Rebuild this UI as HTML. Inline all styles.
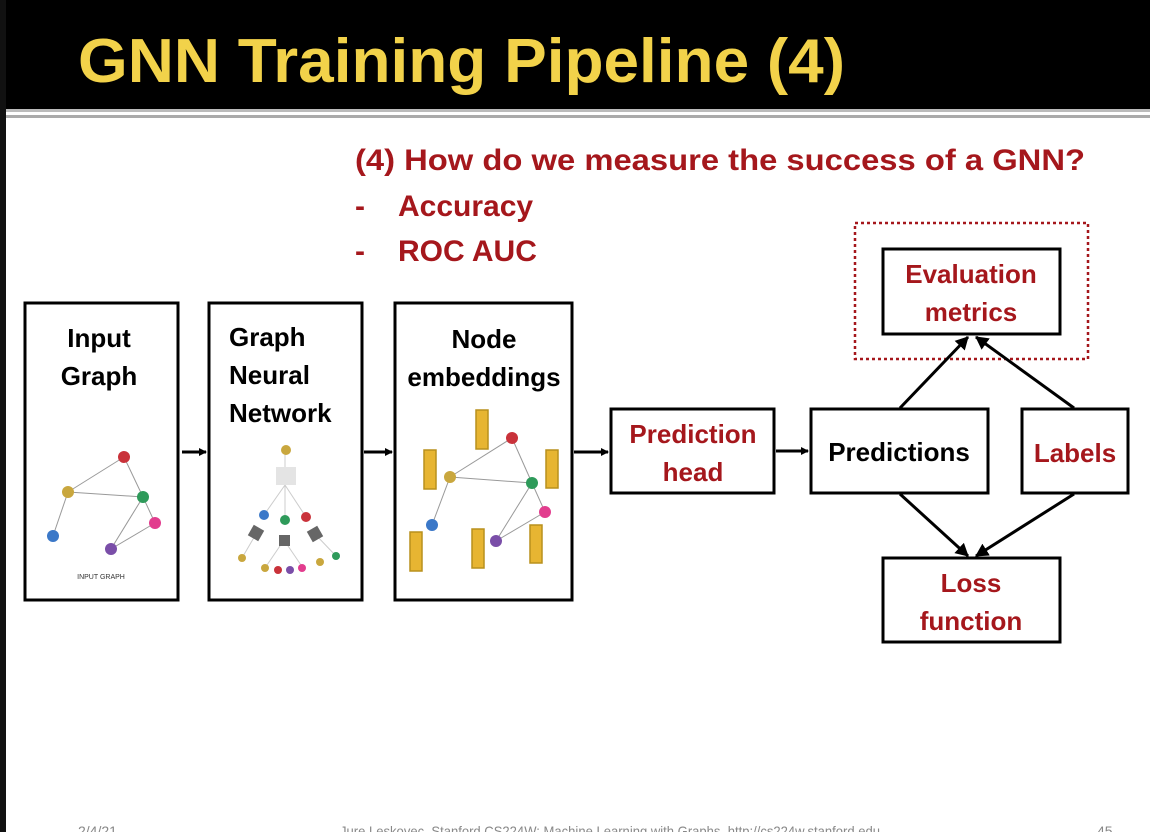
<!DOCTYPE html>
<html><head><style>html,body{margin:0;padding:0;background:#fff}svg{display:block}</style></head>
<body>
<svg width="1150" height="832" viewBox="0 0 1150 832" xmlns="http://www.w3.org/2000/svg" font-family="Liberation Sans, DejaVu Sans, sans-serif">
<defs><marker id="ah" markerWidth="8" markerHeight="8" refX="7" refY="4" orient="auto" markerUnits="userSpaceOnUse"><path d="M0,0 L8,4 L0,8 z" fill="#000"/></marker>
<marker id="ah2" markerWidth="14" markerHeight="14" refX="12" refY="7" orient="auto" markerUnits="userSpaceOnUse"><path d="M0,0 L13,7 L0,14 z" fill="#000"/></marker></defs>
<rect width="1150" height="832" fill="#fff"/>
<rect width="1150" height="109" fill="#000"/>
<rect x="0" y="0" width="6" height="832" fill="#111"/>
<rect x="6" y="109" width="1144" height="3" fill="#bbb"/>
<rect x="6" y="115" width="1144" height="3" fill="#aaa"/>
<text x="78" y="82" font-size="62" font-weight="bold" fill="#f2d24a" textLength="767" lengthAdjust="spacingAndGlyphs">GNN Training Pipeline (4)</text>
<g fill="#a5171c" font-weight="bold">
<text x="355" y="170" font-size="30" textLength="730" lengthAdjust="spacingAndGlyphs">(4) How do we measure the success of a GNN?</text>
<text x="355" y="216" font-size="30">-</text><text x="398" y="216" font-size="30">Accuracy</text>
<text x="355" y="261" font-size="30">-</text><text x="398" y="261" font-size="30">ROC AUC</text>
</g>
<g fill="none" stroke="#000" stroke-width="3">
<rect x="25" y="303" width="153" height="297"/>
<rect x="209" y="303" width="153" height="297"/>
<rect x="395" y="303" width="177" height="297"/>
<rect x="611" y="409" width="163" height="84"/>
<rect x="811" y="409" width="177" height="84"/>
<rect x="1022" y="409" width="106" height="84"/>
<rect x="883" y="249" width="177" height="85"/>
<rect x="883" y="558" width="177" height="84"/>
</g>
<rect x="855" y="223" width="233" height="136" fill="none" stroke="#a5171c" stroke-width="2.5" stroke-dasharray="3,3"/>
<g stroke="#000" stroke-width="3">
<line x1="182" y1="452" x2="206" y2="452" marker-end="url(#ah)"/>
<line x1="364" y1="452" x2="392" y2="452" marker-end="url(#ah)"/>
<line x1="574" y1="452" x2="608" y2="452" marker-end="url(#ah)"/>
<line x1="776" y1="451" x2="808" y2="451" marker-end="url(#ah)"/>
<line x1="900" y1="408" x2="968" y2="337" marker-end="url(#ah2)"/>
<line x1="1074" y1="408" x2="976" y2="337" marker-end="url(#ah2)"/>
<line x1="900" y1="494" x2="968" y2="556" marker-end="url(#ah2)"/>
<line x1="1074" y1="494" x2="976" y2="556" marker-end="url(#ah2)"/>
</g>
<g font-size="26" font-weight="bold" text-anchor="middle" fill="#000">
<text x="99" y="347">Input</text><text x="99" y="385">Graph</text>
<text x="229" y="346" text-anchor="start">Graph</text><text x="229" y="384" text-anchor="start">Neural</text><text x="229" y="422" text-anchor="start">Network</text>
<text x="484" y="348">Node</text><text x="484" y="386">embeddings</text>
<text x="899" y="461">Predictions</text>
</g>
<g font-size="26" font-weight="bold" text-anchor="middle" fill="#a5171c">
<text x="693" y="443">Prediction</text><text x="693" y="481">head</text>
<text x="1075" y="462">Labels</text>
<text x="971" y="283">Evaluation</text><text x="971" y="321">metrics</text>
<text x="971" y="592">Loss</text><text x="971" y="630">function</text>
</g>
<g stroke="#999" stroke-width="1">
<line x1="68" y1="492" x2="124" y2="457"/><line x1="68" y1="492" x2="143" y2="497"/><line x1="124" y1="457" x2="143" y2="497"/>
<line x1="68" y1="492" x2="53" y2="536"/><line x1="143" y1="497" x2="155" y2="523"/><line x1="143" y1="497" x2="111" y2="549"/><line x1="155" y1="523" x2="111" y2="549"/>
</g>
<circle cx="124" cy="457" r="6" fill="#c9323a"/><circle cx="68" cy="492" r="6" fill="#c9a73e"/><circle cx="143" cy="497" r="6" fill="#2e9a5a"/>
<circle cx="53" cy="536" r="6" fill="#3b78c8"/><circle cx="155" cy="523" r="6" fill="#e23d8e"/><circle cx="111" cy="549" r="6" fill="#7a4ea8"/>
<text x="101" y="579" font-size="7" text-anchor="middle" fill="#333">INPUT GRAPH</text>
<g stroke="#ccc" stroke-width="1"><line x1="285" y1="450" x2="285" y2="470"/><line x1="285" y1="485" x2="264" y2="515"/><line x1="285" y1="485" x2="285" y2="520"/><line x1="285" y1="485" x2="306" y2="517"/>
<line x1="256" y1="534" x2="242" y2="558"/><line x1="284" y1="540" x2="265" y2="568"/><line x1="284" y1="540" x2="303" y2="568"/><line x1="315" y1="534" x2="336" y2="556"/></g>
<circle cx="286" cy="450" r="5" fill="#c9a73e"/>
<rect x="276" y="467" width="20" height="18" fill="#e4e4e4"/>
<rect x="250" y="527" width="12" height="12" fill="#666" transform="rotate(30 256 533)"/>
<rect x="279" y="535" width="11" height="11" fill="#666"/>
<rect x="309" y="528" width="12" height="12" fill="#666" transform="rotate(-30 315 534)"/>
<circle cx="264" cy="515" r="5" fill="#3b78c8"/><circle cx="285" cy="520" r="5" fill="#2e9a5a"/><circle cx="306" cy="517" r="5" fill="#c9323a"/>
<circle cx="242" cy="558" r="4" fill="#c9a73e"/><circle cx="265" cy="568" r="4" fill="#c9a73e"/><circle cx="278" cy="570" r="4" fill="#c9323a"/><circle cx="290" cy="570" r="4" fill="#7a4ea8"/><circle cx="302" cy="568" r="4" fill="#e23d8e"/><circle cx="320" cy="562" r="4" fill="#c9a73e"/><circle cx="336" cy="556" r="4" fill="#2e9a5a"/>
<g stroke="#999" stroke-width="1">
<line x1="450" y1="477" x2="512" y2="438"/><line x1="450" y1="477" x2="532" y2="483"/><line x1="512" y1="438" x2="532" y2="483"/>
<line x1="450" y1="477" x2="432" y2="525"/><line x1="532" y1="483" x2="545" y2="512"/><line x1="532" y1="483" x2="496" y2="541"/><line x1="545" y1="512" x2="496" y2="541"/></g>
<g fill="#e7b532" stroke="#b8901d" stroke-width="1.5">
<rect x="476" y="410" width="12" height="39"/><rect x="424" y="450" width="12" height="39"/><rect x="546" y="450" width="12" height="38"/>
<rect x="410" y="532" width="12" height="39"/><rect x="472" y="529" width="12" height="39"/><rect x="530" y="525" width="12" height="38"/></g>
<circle cx="512" cy="438" r="6" fill="#c9323a"/><circle cx="450" cy="477" r="6" fill="#c9a73e"/><circle cx="532" cy="483" r="6" fill="#2e9a5a"/>
<circle cx="432" cy="525" r="6" fill="#3b78c8"/><circle cx="545" cy="512" r="6" fill="#e23d8e"/><circle cx="496" cy="541" r="6" fill="#7a4ea8"/>
<g font-size="14" fill="#888"><text x="78" y="836">2/4/21</text><text x="340" y="836" textLength="540" lengthAdjust="spacingAndGlyphs">Jure Leskovec, Stanford CS224W: Machine Learning with Graphs, http://cs224w.stanford.edu</text><text x="1097" y="836">45</text></g>
</svg>
</body></html>
